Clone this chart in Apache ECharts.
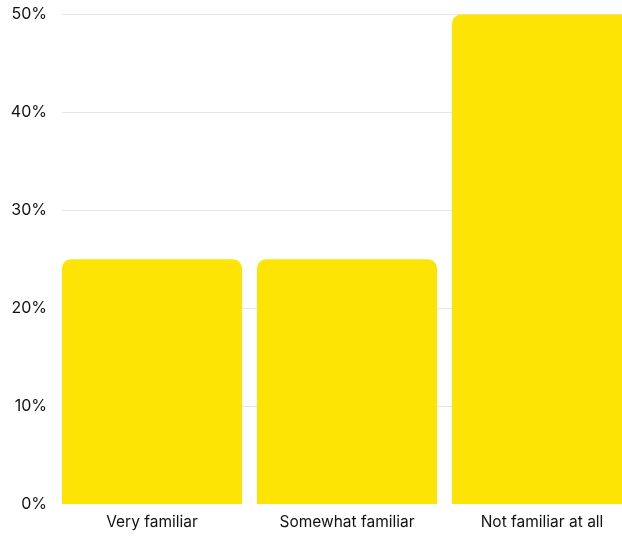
<!DOCTYPE html>
<html><head><meta charset="utf-8">
<script src="https://cdn.jsdelivr.net/npm/echarts@6/dist/echarts.min.js"></script>
<style>html,body{margin:0;padding:0;background:#fff;overflow:hidden;width:622px;height:536px}#c{width:640px;height:536px}</style>
</head><body><div id="c"></div>
<script>
const categories = ['Very familiar', 'Somewhat familiar', 'Not familiar at all'];
const values = [25, 25, 50];
const yTicks = [0, 10, 20, 30, 40, 50];

const chart = echarts.init(document.getElementById('c'), null, {renderer: 'canvas'});
const font = 'Inter, "Liberation Sans", Arial, sans-serif';
chart.setOption({
  animation: false,
  grid: [
    {left: 54.5, top: 14.5, right: 0.5, bottom: 32, containLabel: false},
    {left: 62, top: 14.5, right: 18, bottom: 32, containLabel: false}
  ],
  xAxis: [
    {type: 'category', gridIndex: 0, data: categories,
     axisLine: {show: false}, axisTick: {show: false},
     axisLabel: {color: '#111', fontSize: 15.5, fontFamily: font, margin: 10}},
    {type: 'category', gridIndex: 1, data: categories, show: false}
  ],
  yAxis: [
    {type: 'value', gridIndex: 0, min: yTicks[0], max: yTicks[yTicks.length - 1], interval: 10,
     show: false, splitLine: {show: false}},
    {type: 'value', gridIndex: 1, min: yTicks[0], max: yTicks[yTicks.length - 1], interval: 10,
     axisLine: {show: false}, axisTick: {show: false},
     splitLine: {showMinLine: false, lineStyle: {color: '#e6e6e6', width: 1}},
     axisLabel: {color: '#111', fontSize: 16, fontFamily: font, margin: 15,
                 formatter: v => v + '%'}}
  ],
  series: [{
    type: 'bar', xAxisIndex: 0, yAxisIndex: 0, data: values, barWidth: 180,
    itemStyle: {color: '#FDE405', borderRadius: [9, 9, 0, 0]}
  }]
});
</script></body></html>
